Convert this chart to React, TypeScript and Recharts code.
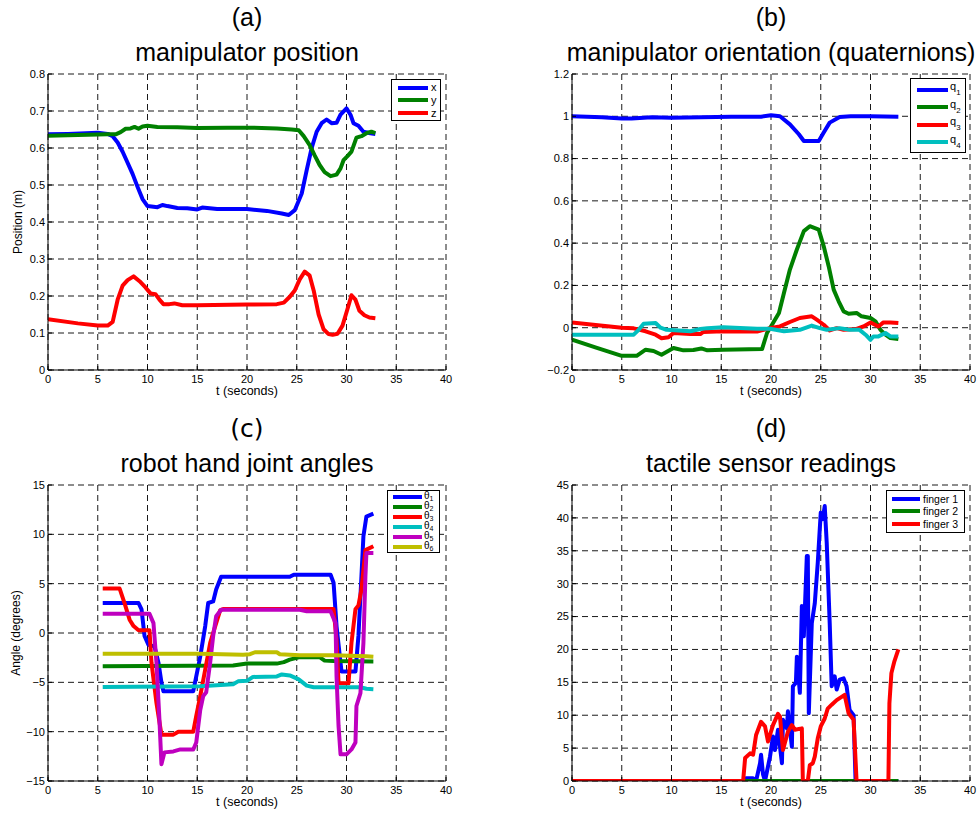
import React from 'react';
import { LineChart, Line, XAxis, YAxis, CartesianGrid } from 'recharts';

// ---------- data ----------
const xTicks = [0, 5, 10, 15, 20, 25, 30, 35, 40];

// (a) manipulator position
const posTicks = [0, 0.1, 0.2, 0.3, 0.4, 0.5, 0.6, 0.7, 0.8];
const posXT = [0, 2, 5, 6, 6.5, 7, 7.5, 8, 8.5, 9, 9.5, 10, 11, 11.5, 12, 13, 14, 15, 15.5, 17, 20, 22, 23.5, 24.2, 24.8, 25.5, 26, 26.5, 27, 27.5, 28, 28.5, 29, 29.4, 30, 30.4, 30.7, 31.2, 31.7, 32.4, 32.9];
const posX = [0.637, 0.638, 0.641, 0.638, 0.632, 0.615, 0.59, 0.56, 0.53, 0.495, 0.462, 0.443, 0.44, 0.446, 0.443, 0.438, 0.437, 0.434, 0.439, 0.435, 0.435, 0.43, 0.423, 0.419, 0.432, 0.477, 0.54, 0.6, 0.644, 0.667, 0.677, 0.667, 0.668, 0.69, 0.707, 0.69, 0.667, 0.66, 0.644, 0.64, 0.638];
const posYT = [0, 3, 6, 6.8, 7.3, 7.8, 8.3, 8.7, 9.1, 9.5, 10, 11, 13, 15, 18, 20, 23, 24.5, 25.2, 25.7, 26.3, 26.8, 27.3, 27.8, 28.4, 29, 29.4, 29.7, 30.1, 30.5, 31, 31.5, 32, 32.5, 32.9];
const posY = [0.633, 0.635, 0.637, 0.637, 0.643, 0.652, 0.653, 0.657, 0.652, 0.658, 0.66, 0.657, 0.656, 0.654, 0.655, 0.655, 0.653, 0.65, 0.648, 0.632, 0.608, 0.58, 0.554, 0.535, 0.524, 0.528, 0.545, 0.567, 0.578, 0.59, 0.628, 0.632, 0.64, 0.644, 0.64];
const posZT = [0, 3, 5, 6, 6.5, 7, 7.5, 8, 8.6, 9.2, 9.8, 10.3, 10.8, 11.2, 11.6, 12.2, 12.7, 13.5, 15, 20, 23, 23.7, 24.3, 24.8, 25.3, 25.8, 26.3, 26.7, 27.2, 27.7, 28.2, 28.6, 29.1, 29.6, 30.1, 30.5, 30.9, 31.3, 31.8, 32.3, 32.9];
const posZ = [0.137, 0.126, 0.12, 0.12, 0.13, 0.19, 0.228, 0.243, 0.253, 0.24, 0.223, 0.207, 0.205, 0.19, 0.178, 0.178, 0.18, 0.175, 0.175, 0.177, 0.178, 0.182, 0.198, 0.215, 0.245, 0.266, 0.255, 0.215, 0.15, 0.11, 0.097, 0.095, 0.098, 0.12, 0.165, 0.202, 0.19, 0.16, 0.148, 0.142, 0.14];

// (b) orientation quaternions
const quatTicks = [-0.2, 0, 0.2, 0.4, 0.6, 0.8, 1, 1.2];
const q1T = [0, 3, 5, 6, 8, 10, 13, 16, 19, 20, 20.9, 21.9, 22.8, 23.3, 24.8, 25.3, 25.9, 26.9, 28, 30, 32.8];
const q1 = [1.0, 0.995, 0.99, 0.99, 0.995, 0.993, 0.996, 0.998, 0.998, 1.005, 1.0, 0.962, 0.915, 0.883, 0.883, 0.923, 0.97, 0.997, 1.0, 1.0, 0.998];
const q2T = [0, 2.5, 5, 6.5, 7.4, 8.2, 9, 10.2, 11.2, 12.2, 13, 13.6, 15.2, 19.1, 19.6, 20.1, 20.8, 21.3, 21.9, 22.6, 23.3, 23.9, 24.8, 25.3, 25.8, 26.3, 26.8, 27.3, 27.8, 28.6, 29.1, 30, 30.5, 31, 31.5, 32, 32.8];
const q2 = [-0.057, -0.095, -0.133, -0.133, -0.104, -0.11, -0.128, -0.096, -0.107, -0.105, -0.098, -0.107, -0.104, -0.101, -0.025, 0.014, 0.07, 0.164, 0.275, 0.37, 0.457, 0.48, 0.464, 0.385, 0.29, 0.18, 0.125, 0.077, 0.066, 0.07, 0.054, 0.046, 0.03, -0.01, -0.033, -0.049, -0.054];
const q3T = [0, 5, 6.2, 7.4, 8.4, 9, 9.7, 10.2, 11.9, 12.9, 13.2, 15.2, 18.6, 20.1, 20.9, 21.9, 22.9, 24.1, 24.6, 25.3, 25.9, 26.6, 27.3, 28.6, 29.3, 30, 30.8, 31.3, 32, 32.8];
const q3 = [0.025, 0.0, -0.003, -0.017, -0.033, -0.05, -0.045, -0.025, -0.03, -0.03, -0.02, -0.017, -0.018, 0.0, 0.006, 0.027, 0.046, 0.054, 0.038, 0.014, -0.013, -0.002, -0.01, -0.006, 0.006, 0.025, 0.006, 0.025, 0.025, 0.022];
const q4T = [0, 6.2, 6.7, 7.2, 8.4, 8.9, 9.5, 11.9, 12.9, 13.6, 15.2, 18.6, 19.9, 21.3, 22.9, 24.1, 24.9, 25.6, 26.9, 27.9, 28.9, 29.5, 30, 30.3, 30.8, 31.5, 32, 32.8];
const q4 = [-0.033, -0.033, -0.01, 0.019, 0.022, 0.0, -0.01, -0.017, -0.006, -0.002, 0.002, -0.005, -0.005, -0.017, -0.01, 0.01, -0.002, -0.01, -0.002, -0.01, -0.01, -0.033, -0.057, -0.041, -0.041, -0.025, -0.041, -0.041];

// (c) robot hand joint angles
const angTicks = [-15, -10, -5, 0, 5, 10, 15];
const th1T = [5.5, 9.1, 9.4, 9.7, 10.1, 10.7, 11.1, 11.4, 11.6, 14.6, 14.9, 15.3, 15.8, 16.1, 16.6, 16.9, 17.4, 24.3, 24.7, 28.4, 28.7, 29, 29.4, 29.5, 30.9, 31.2, 31.4, 31.7, 32, 32.7];
const th1 = [3.04, 3.04, 2.4, -0.3, -1.2, -1.35, -3, -5, -5.9, -5.9, -4.4, -2.4, 0.7, 3.04, 3.2, 4.4, 5.7, 5.7, 5.9, 5.9, 5.1, 0.7, -3, -3.9, -3.9, -0.3, 3.7, 9.8, 11.8, 12.1];
const th2T = [5.5, 18.6, 20, 23, 23.7, 24.3, 25.3, 27.3, 27.8, 28.7, 32.7];
const th2 = [-3.37, -3.3, -3.1, -3.1, -2.95, -2.7, -2.45, -2.45, -2.8, -2.85, -2.9];
const th3T = [5.5, 7.2, 7.7, 8.2, 8.6, 9.1, 10.2, 10.4, 10.9, 11.4, 12.6, 13.1, 14.6, 14.9, 15.3, 15.8, 16.3, 16.8, 17.3, 17.6, 28.7, 29, 29.2, 30.2, 30.5, 30.9, 31.2, 31.5, 31.9, 32.7];
const th3 = [4.5, 4.5, 3.0, 1.35, 0.7, 0.27, 0.27, -3, -7.1, -10.3, -10.3, -10, -10, -8.4, -6.4, -3.7, -1, 0.67, 2.3, 2.43, 2.43, -0.7, -5.1, -5.1, -1, 2.4, 2.8, 4.4, 8.4, 8.8];
const th4T = [5.5, 15.3, 18.6, 19.1, 20, 20.6, 23, 23.5, 24.3, 25.2, 26, 26.7, 31.4, 32, 32.7];
const th4 = [-5.47, -5.4, -5.2, -4.9, -4.85, -4.45, -4.4, -4.2, -4.3, -4.7, -5.33, -5.5, -5.5, -5.65, -5.7];
const th5T = [5.5, 10.2, 10.6, 10.9, 11.2, 11.4, 11.7, 12.6, 13.3, 14.6, 14.9, 15.3, 15.6, 15.9, 16.3, 16.6, 16.9, 17.4, 25.3, 26, 28.4, 28.9, 29, 29.2, 29.4, 30, 30.5, 30.9, 31, 31.4, 31.7, 31.9, 32, 32.7];
const th5 = [1.96, 1.96, 1, -3, -8.8, -13.3, -12.1, -12, -11.8, -11.8, -11.1, -7.8, -6.4, -6, -3, -0.3, 1.7, 2.36, 2.36, 2.2, 2.2, 1, -4.4, -9.4, -12.3, -12.3, -11.8, -11.1, -7.4, -6.1, -1, 5.7, 8.1, 8.1];
const th6T = [5.5, 15.3, 19.6, 20.3, 20.8, 23, 23.3, 25.3, 28.7, 32, 32.7];
const th6 = [-2.1, -2.1, -2.2, -2.15, -1.95, -1.95, -2.15, -2.25, -2.25, -2.35, -2.4];

// (d) tactile sensor readings
const tacTicks = [0, 5, 10, 15, 20, 25, 30, 35, 40, 45];
const f1T = [0, 17.4, 17.5, 18.2, 18.5, 18.9, 19.0, 19.2, 19.4, 19.9, 20.2, 20.4, 20.7, 21.1, 21.2, 21.6, 21.7, 22.1, 22.2, 22.5, 22.6, 22.9, 23.1, 23.3, 23.6, 23.7, 23.8, 24.1, 24.4, 24.7, 25.0, 25.2, 25.4, 25.6, 25.9, 26.1, 26.4, 26.6, 26.9, 27.3, 27.6, 27.9, 28.3, 28.5, 32.8];
const f1 = [0, 0, 0.4, 0.4, 0, 2.7, 4, 1, 0, 3.7, 6.75, 4.7, 7.8, 2.7, 9.3, 8, 10.6, 5.2, 14.4, 14.9, 18.9, 13.4, 26.6, 22, 34.2, 34.2, 10.3, 24, 27, 33.2, 40.8, 39.8, 41.8, 36.2, 24, 14.4, 15.9, 13.9, 15.4, 15.6, 14.4, 10.8, 10, 0, 0];
const f2T = [0, 32.8];
const f2 = [0, 0];
const f3T = [0, 17.2, 17.4, 17.9, 18.2, 18.5, 19, 19.4, 19.7, 20.2, 20.7, 20.9, 21.2, 21.7, 22.1, 22.4, 23.1, 23.2, 23.7, 23.9, 24.2, 24.4, 24.7, 25, 25.4, 25.7, 26.1, 26.6, 27.1, 27.4, 27.8, 28.3, 28.6, 31.8, 31.9, 32.1, 32.4, 32.8];
const f3 = [0, 0, 3.5, 4.2, 4, 7, 9, 8.3, 6, 8.5, 10.2, 9.8, 4.7, 7.5, 8.5, 7.8, 8, 0, 0, 2.4, 2.7, 3.7, 6.5, 8.3, 9.5, 11, 11.6, 12.3, 12.8, 13.1, 10.3, 9.3, 0, 0, 11.8, 16.4, 18.2, 20];

// ---------- styling ----------
const FONT = '"Liberation Sans", Arial, Helvetica, sans-serif';
const BLUE = '#0000ff';
const GREEN = '#008000';
const RED = '#ff0000';
const CYAN = '#00bfbf';
const MAGENTA = '#bf00bf';
const OLIVE = '#bfbf00';

type Series = { name: string; sub?: string; color: string; t: number[]; v: number[] };

const seriesA: Series[] = [
  { name: 'x', color: BLUE, t: posXT, v: posX },
  { name: 'y', color: GREEN, t: posYT, v: posY },
  { name: 'z', color: RED, t: posZT, v: posZ },
];
const seriesB: Series[] = [
  { name: 'q', sub: '1', color: BLUE, t: q1T, v: q1 },
  { name: 'q', sub: '2', color: GREEN, t: q2T, v: q2 },
  { name: 'q', sub: '3', color: RED, t: q3T, v: q3 },
  { name: 'q', sub: '4', color: CYAN, t: q4T, v: q4 },
];
const seriesC: Series[] = [
  { name: 'θ', sub: '1', color: BLUE, t: th1T, v: th1 },
  { name: 'θ', sub: '2', color: GREEN, t: th2T, v: th2 },
  { name: 'θ', sub: '3', color: RED, t: th3T, v: th3 },
  { name: 'θ', sub: '4', color: CYAN, t: th4T, v: th4 },
  { name: 'θ', sub: '5', color: MAGENTA, t: th5T, v: th5 },
  { name: 'θ', sub: '6', color: OLIVE, t: th6T, v: th6 },
];
const seriesD: Series[] = [
  { name: 'finger 1', color: BLUE, t: f1T, v: f1 },
  { name: 'finger 2', color: GREEN, t: f2T, v: f2 },
  { name: 'finger 3', color: RED, t: f3T, v: f3 },
];

const toPoints = (t: number[], v: number[]) => t.map((x, i) => ({ t: x, v: v[i] }));
const fmt = (v: number) => String(v).replace('-', '\u2212');

type LegendCfg = {
  box: [number, number, number, number];
  row0: number;
  step: number;
  lineX: number;
  lineW: number;
  lineH: number;
  labelX: number;
  fontSize: number;
  dy: number;
  subSize?: number;
  subTop?: number;
};

type PanelProps = {
  left: number;
  top: number;
  width: number;
  height: number;
  mTop: number;
  mRight: number;
  yW: number;
  xH: number;
  yTicks: number[];
  series: Series[];
  letter: string;
  letterFont?: string;
  title: string;
  yLabel?: string;
  yLabelX?: number;
  legend: LegendCfg;
};

const Legend = ({ cfg, items }: { cfg: LegendCfg; items: Series[] }) => {
  const [bx, by, bw, bh] = cfg.box;
  return (
    <div
      style={{
        position: 'absolute',
        left: bx,
        top: by,
        width: bw,
        height: bh,
        border: '1px solid #000',
        background: '#fff',
        boxSizing: 'border-box',
      }}
    >
      {items.map((it, i) => {
        const cy = cfg.row0 + i * cfg.step - by - 1;
        return (
          <React.Fragment key={i}>
            <div
              style={{
                position: 'absolute',
                left: cfg.lineX - bx - 1,
                top: cy - cfg.lineH / 2,
                width: cfg.lineW,
                height: cfg.lineH,
                background: it.color,
              }}
            />
            <div
              style={{
                position: 'absolute',
                left: cfg.labelX - bx - 1,
                top: cy - cfg.fontSize * 0.6 + cfg.dy,
                fontSize: cfg.fontSize,
                lineHeight: `${cfg.fontSize * 1.2}px`,
                fontFamily: FONT,
                whiteSpace: 'nowrap',
                color: '#000',
              }}
            >
              {it.name}
              {it.sub && (
                <span
                  style={{
                    fontSize: cfg.subSize ?? cfg.fontSize * 0.72,
                    position: 'relative',
                    top: cfg.subTop ?? cfg.fontSize * 0.45,
                  }}
                >
                  {it.sub}
                </span>
              )}
            </div>
          </React.Fragment>
        );
      })}
    </div>
  );
};

const Panel = (p: PanelProps) => {
  const plotL = p.left + p.yW;
  const plotR = p.left + p.width - p.mRight;
  const plotT = p.top + p.mTop;
  const plotB = p.top + p.height - p.xH;
  const cx = (plotL + plotR) / 2;
  const cy = (plotT + plotB) / 2;
  const tickStyle = { fill: '#000', fontSize: 11, fontFamily: FONT };
  const dom = [p.yTicks[0], p.yTicks[p.yTicks.length - 1]];
  return (
    <>
      <div
        style={{
          position: 'absolute',
          left: cx,
          top: plotT - 69.2,
          transform: 'translateX(-50%)',
          fontSize: 25,
          lineHeight: '25px',
          fontFamily: p.letterFont || FONT,
          whiteSpace: 'nowrap',
        }}
      >
        {p.letter}
      </div>
      <div
        style={{
          position: 'absolute',
          left: cx,
          top: plotT - 33.7,
          transform: 'translateX(-50%)',
          fontSize: 25,
          lineHeight: '25px',
          fontFamily: FONT,
          whiteSpace: 'nowrap',
        }}
      >
        {p.title}
      </div>
      <div
        style={{
          position: 'absolute',
          left: cx,
          top: plotB + 25.3 - 10.6,
          transform: 'translateX(-50%)',
          fontSize: 12.5,
          lineHeight: '12.5px',
          fontFamily: FONT,
          whiteSpace: 'nowrap',
        }}
      >
        t (seconds)
      </div>
      {p.yLabel && (
        <div
          style={{
            position: 'absolute',
            left: p.yLabelX,
            top: cy,
            transform: 'translate(-50%, -50%) rotate(-90deg)',
            fontSize: 12,
            lineHeight: '12px',
            fontFamily: FONT,
            whiteSpace: 'nowrap',
          }}
        >
          {p.yLabel}
        </div>
      )}
      <div style={{ position: 'absolute', left: p.left, top: p.top }}>
        <LineChart
          width={p.width}
          height={p.height}
          margin={{ top: p.mTop, right: p.mRight, left: 0, bottom: 0 }}
        >
          <CartesianGrid stroke="#000" strokeDasharray="6 4" strokeWidth={0.9} />
          <XAxis
            xAxisId={0}
            dataKey="t"
            type="number"
            domain={[0, 40]}
            ticks={xTicks}
            interval={0}
            allowDataOverflow
            height={p.xH}
            tickSize={-4}
            tickMargin={9}
            tick={tickStyle}
            axisLine={{ stroke: '#000' }}
            tickLine={{ stroke: '#000' }}
          />
          <XAxis
            xAxisId="top"
            orientation="top"
            dataKey="t"
            type="number"
            domain={[0, 40]}
            ticks={xTicks}
            interval={0}
            height={0}
            tickSize={-4}
            tick={false}
            axisLine={{ stroke: '#000' }}
            tickLine={{ stroke: '#000' }}
          />
          <YAxis
            yAxisId={0}
            type="number"
            domain={dom}
            ticks={p.yTicks}
            interval={0}
            allowDataOverflow
            width={p.yW}
            tickSize={-4}
            tickMargin={7}
            tick={tickStyle}
            tickFormatter={fmt}
            axisLine={{ stroke: '#000' }}
            tickLine={{ stroke: '#000' }}
          />
          <YAxis
            yAxisId="right"
            orientation="right"
            type="number"
            domain={dom}
            ticks={p.yTicks}
            interval={0}
            width={0}
            tickSize={-4}
            tick={false}
            axisLine={{ stroke: '#000' }}
            tickLine={{ stroke: '#000' }}
          />
          {p.series.map((s, i) => (
            <Line
              key={i}
              xAxisId={0}
              yAxisId={0}
              data={toPoints(s.t, s.v)}
              dataKey="v"
              name={s.name + (s.sub || '')}
              type="linear"
              stroke={s.color}
              strokeWidth={4}
              strokeLinejoin="round"
              dot={false}
              activeDot={false}
              isAnimationActive={false}
            />
          ))}
        </LineChart>
      </div>
      <Legend cfg={p.legend} items={p.series} />
    </>
  );
};

export default function App() {
  return (
    <div
      style={{
        position: 'absolute',
        left: 0,
        top: 0,
        width: 980,
        height: 817,
        background: '#fff',
        overflow: 'hidden',
      }}
    >
      <Panel
        left={0}
        top={0}
        width={490}
        height={410}
        mTop={74}
        mRight={44}
        yW={48}
        xH={40}
        yTicks={posTicks}
        series={seriesA}
        letter="(a)"
        title="manipulator position"
        yLabel="Position (m)"
        yLabelX={18}
        legend={{ box: [391, 79, 50, 42], row0: 87.5, step: 12.8, lineX: 398, lineW: 30, lineH: 4, labelX: 431, fontSize: 11, dy: 0 }}
      />
      <Panel
        left={490}
        top={0}
        width={490}
        height={410}
        mTop={74}
        mRight={10}
        yW={82}
        xH={40}
        yTicks={quatTicks}
        series={seriesB}
        letter="(b)"
        title="manipulator orientation (quaternions)"
        legend={{ box: [910, 78, 56, 75], row0: 90, step: 17.4, lineX: 916.5, lineW: 31, lineH: 4, labelX: 950, fontSize: 11, dy: -3 }}
      />
      <Panel
        left={0}
        top={410}
        width={490}
        height={407}
        mTop={75}
        mRight={44}
        yW={48}
        xH={36}
        yTicks={angTicks}
        series={seriesC}
        letter="(c)"
        letterFont='"DejaVu Sans", sans-serif'
        title="robot hand joint angles"
        yLabel="Angle (degrees)"
        yLabelX={16}
        legend={{ box: [387, 490, 53, 63], row0: 497, step: 10, lineX: 392.5, lineW: 29, lineH: 3.5, labelX: 424, fontSize: 10, dy: -1, subSize: 7, subTop: 1.5 }}
      />
      <Panel
        left={490}
        top={410}
        width={490}
        height={407}
        mTop={75}
        mRight={10}
        yW={82}
        xH={36}
        yTicks={tacTicks}
        series={seriesD}
        letter="(d)"
        title="tactile sensor readings"
        legend={{ box: [886, 490, 79, 43], row0: 499, step: 12.4, lineX: 892, lineW: 28, lineH: 4, labelX: 923, fontSize: 10.5, dy: 0 }}
      />
    </div>
  );
}
